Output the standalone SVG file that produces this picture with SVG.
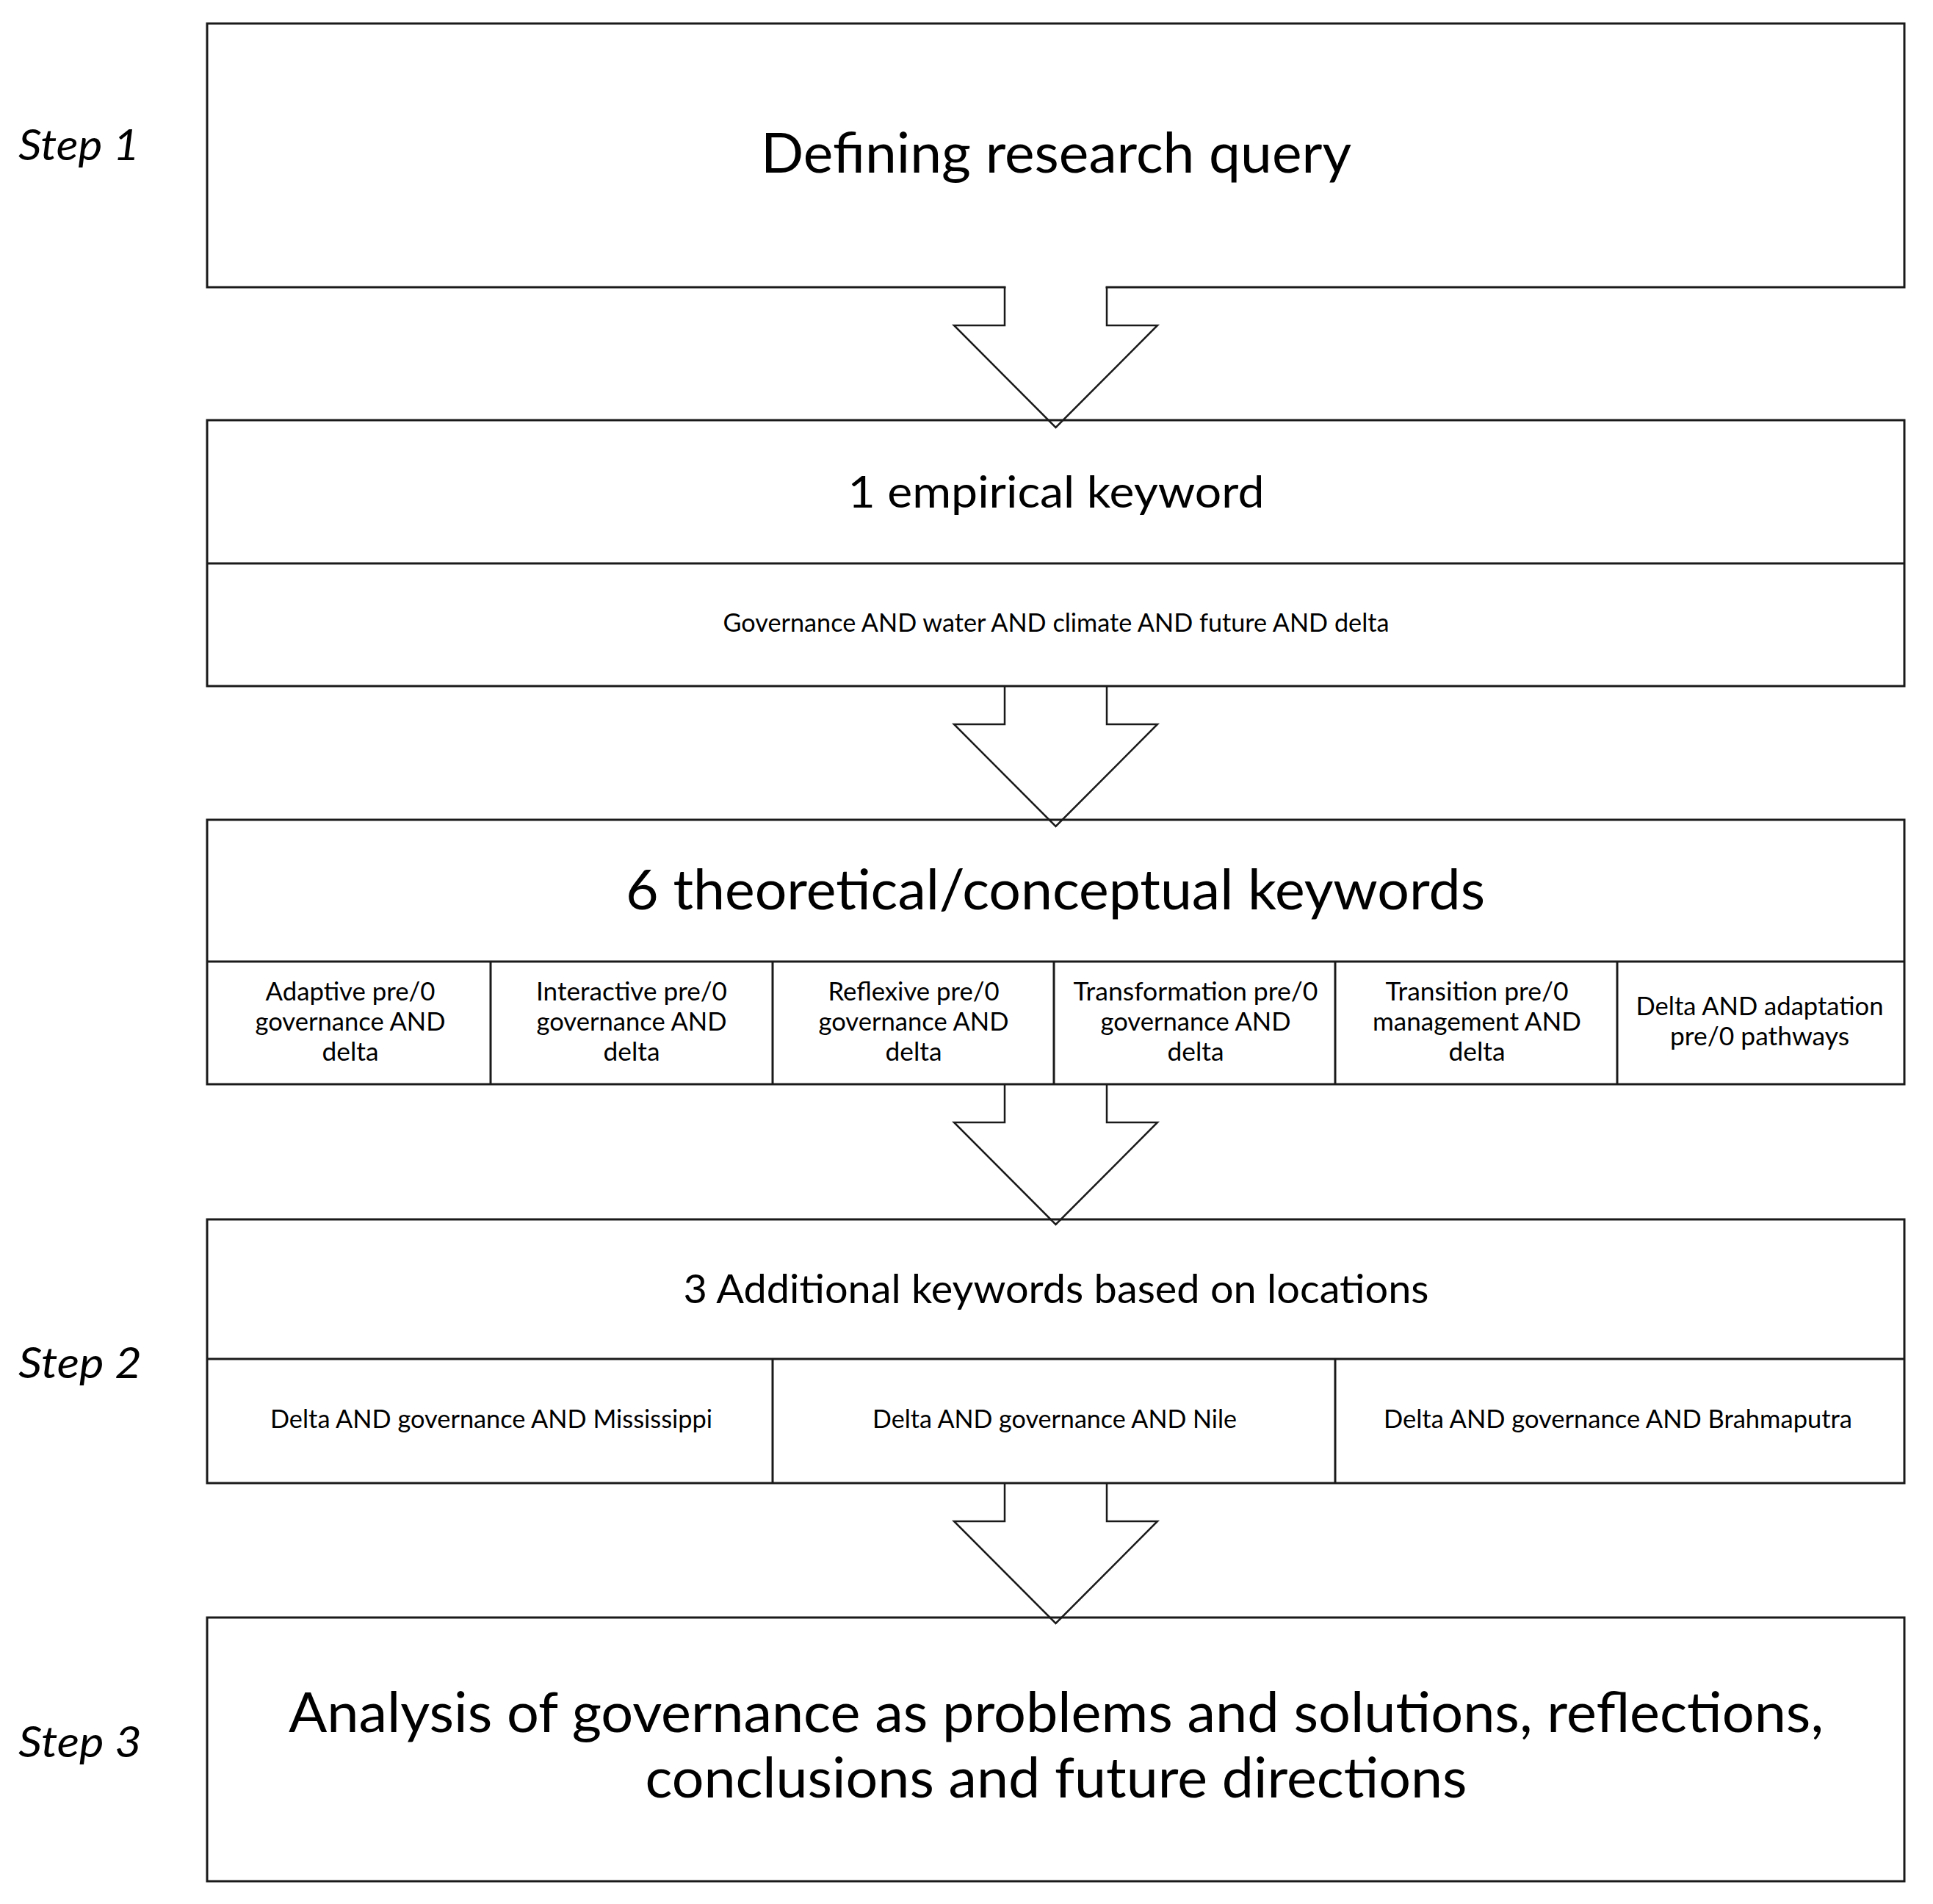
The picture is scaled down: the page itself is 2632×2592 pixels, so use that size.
<svg xmlns="http://www.w3.org/2000/svg" width="2632" height="2592" viewBox="0 0 2632 2592">
<style>
.box{fill:#fff;stroke:#1a1a1a;stroke-width:3}
.ln{stroke:#1a1a1a;stroke-width:3;fill:none}
.af{fill:#fff;stroke:none}
.as{fill:none;stroke:#1a1a1a;stroke-width:2.5;stroke-linejoin:miter}
text{font-family:Lato,'Open Sans','Liberation Sans',sans-serif;fill:#000;text-anchor:middle}
.xl{font-size:75px}
.l{font-size:60px}
.m{font-size:54px}
.s{font-size:34px}
.step{font-size:59px;font-style:italic;text-anchor:start}
</style>
<rect width="2632" height="2592" fill="#fff"/>

<g id="labels">
<text class="step" x="25" y="218" textLength="165" lengthAdjust="spacingAndGlyphs">Step 1</text>
<text class="step" x="25" y="1876" textLength="168" lengthAdjust="spacingAndGlyphs">Step 2</text>
<text class="step" x="25" y="2392" textLength="168" lengthAdjust="spacingAndGlyphs">Step 3</text>
</g>

<g id="box1">
<rect class="box" x="282" y="32" width="2311" height="359"/>
<text class="xl" x="1438" y="235" textLength="804" lengthAdjust="spacingAndGlyphs">Defining research query</text>
</g>

<g id="box2">
<rect class="box" x="282" y="572" width="2311" height="362"/>
<line class="ln" x1="282" y1="767" x2="2593" y2="767"/>
<text class="l" x="1438" y="691" textLength="567" lengthAdjust="spacingAndGlyphs">1 empirical  keyword</text>
<text class="s" x="1438" y="860" textLength="907" lengthAdjust="spacingAndGlyphs">Governance AND water AND climate AND future AND delta</text>
</g>

<g id="box3">
<rect class="box" x="282" y="1116" width="2311" height="360"/>
<line class="ln" x1="282" y1="1309" x2="2593" y2="1309"/>
<line class="ln" x1="668" y1="1309" x2="668" y2="1476"/>
<line class="ln" x1="1052" y1="1309" x2="1052" y2="1476"/>
<line class="ln" x1="1435" y1="1309" x2="1435" y2="1476"/>
<line class="ln" x1="1818" y1="1309" x2="1818" y2="1476"/>
<line class="ln" x1="2202" y1="1309" x2="2202" y2="1476"/>
<text class="xl" x="1437" y="1238" textLength="1170" lengthAdjust="spacingAndGlyphs">6 theoretical/conceptual keywords</text>
<g id="cell3-1">
<text class="s" x="477" y="1362" textLength="231" lengthAdjust="spacingAndGlyphs">Adaptive pre/0</text>
<text class="s" x="477" y="1403" textLength="259" lengthAdjust="spacingAndGlyphs">governance AND</text>
<text class="s" x="477" y="1444" textLength="77" lengthAdjust="spacingAndGlyphs">delta</text>
</g>
<g id="cell3-2">
<text class="s" x="860" y="1362" textLength="260" lengthAdjust="spacingAndGlyphs">Interactive pre/0</text>
<text class="s" x="860" y="1403" textLength="259" lengthAdjust="spacingAndGlyphs">governance AND</text>
<text class="s" x="860" y="1444" textLength="77" lengthAdjust="spacingAndGlyphs">delta</text>
</g>
<g id="cell3-3">
<text class="s" x="1244" y="1362" textLength="233" lengthAdjust="spacingAndGlyphs">Reflexive pre/0</text>
<text class="s" x="1244" y="1403" textLength="259" lengthAdjust="spacingAndGlyphs">governance AND</text>
<text class="s" x="1244" y="1444" textLength="77" lengthAdjust="spacingAndGlyphs">delta</text>
</g>
<g id="cell3-4">
<text class="s" x="1628" y="1362" textLength="333" lengthAdjust="spacingAndGlyphs">Transformation pre/0</text>
<text class="s" x="1628" y="1403" textLength="259" lengthAdjust="spacingAndGlyphs">governance AND</text>
<text class="s" x="1628" y="1444" textLength="77" lengthAdjust="spacingAndGlyphs">delta</text>
</g>
<g id="cell3-5">
<text class="s" x="2011" y="1362" textLength="249" lengthAdjust="spacingAndGlyphs">Transition pre/0</text>
<text class="s" x="2011" y="1403" textLength="284" lengthAdjust="spacingAndGlyphs">management AND</text>
<text class="s" x="2011" y="1444" textLength="77" lengthAdjust="spacingAndGlyphs">delta</text>
</g>
<g id="cell3-6">
<text class="s" x="2396" y="1382" textLength="337" lengthAdjust="spacingAndGlyphs">Delta AND adaptation</text>
<text class="s" x="2396" y="1423" textLength="244" lengthAdjust="spacingAndGlyphs">pre/0 pathways</text>
</g>
</g>

<g id="box4">
<rect class="box" x="282" y="1660" width="2311" height="359"/>
<line class="ln" x1="282" y1="1850" x2="2593" y2="1850"/>
<line class="ln" x1="1052" y1="1850" x2="1052" y2="2019"/>
<line class="ln" x1="1818" y1="1850" x2="1818" y2="2019"/>
<text class="m" x="1438" y="1774" textLength="1015" lengthAdjust="spacingAndGlyphs">3 Additional keywords based on locations</text>
<text class="s" x="669" y="1944" textLength="602" lengthAdjust="spacingAndGlyphs">Delta AND governance AND Mississippi</text>
<text class="s" x="1436" y="1944" textLength="496" lengthAdjust="spacingAndGlyphs">Delta AND governance AND Nile</text>
<text class="s" x="2203" y="1944" textLength="638" lengthAdjust="spacingAndGlyphs">Delta AND governance AND Brahmaputra</text>
</g>

<g id="box5">
<rect class="box" x="282" y="2202" width="2311" height="359"/>
<text class="xl" x="1438" y="2358" textLength="2090" lengthAdjust="spacingAndGlyphs">Analysis of governance as problems and solutions, reflections,</text>
<text class="xl" x="1438" y="2447" textLength="1119" lengthAdjust="spacingAndGlyphs">conclusions and future directions</text>
</g>

<g id="connectors">
<g id="arrow1">
<path class="af" d="M1369.5,389 V443 H1299 L1425,570 H1450 L1576,443 H1505.5 V389 Z"/>
<path class="as" d="M1368,391 V443 H1299 L1437.5,582 L1576,443 H1507 V391"/>
</g>
<g id="arrow2">
<path class="af" d="M1369.5,936 V986 H1299 L1425,1113 H1450 L1576,986 H1505.5 V936 Z"/>
<path class="as" d="M1368,934 V986 H1299 L1437.5,1125 L1576,986 H1507 V934"/>
</g>
<g id="arrow3">
<path class="af" d="M1369.5,1478 V1528 H1299 L1428,1657 H1447 L1576,1528 H1505.5 V1478 Z"/>
<path class="as" d="M1368,1476 V1528 H1299 L1437.5,1667 L1576,1528 H1507 V1476"/>
</g>
<g id="arrow4">
<path class="af" d="M1369.5,2021 V2071 H1299 L1427,2199 H1448 L1576,2071 H1505.5 V2021 Z"/>
<path class="as" d="M1368,2019 V2071 H1299 L1437.5,2210 L1576,2071 H1507 V2019"/>
</g>
</g>
</svg>
